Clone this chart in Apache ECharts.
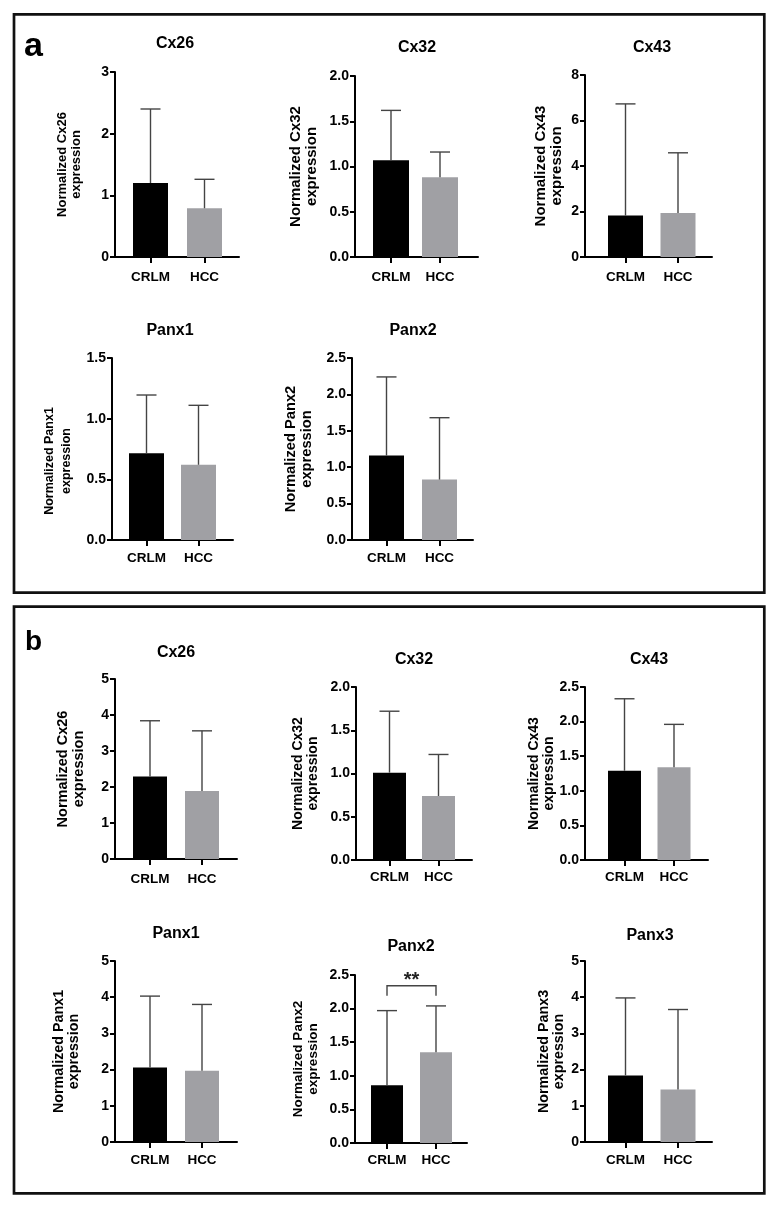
<!DOCTYPE html>
<html><head><meta charset="utf-8">
<script src="https://cdn.jsdelivr.net/npm/echarts@6/dist/echarts.min.js"></script>
<style>html,body{margin:0;padding:0;background:#fff}#c{width:777px;height:1213px}</style>
</head><body><div id="c"></div>
<script>
// ---------------- data ----------------
const categories = ['CRLM', 'HCC'];
const panelLetters = ['a', 'b'];

// panel a
const aCx26Mean = [1.20, 0.79];  const aCx26Err = [1.20, 0.47];  const aCx26Ticks = ['0','1','2','3'];
const aCx32Mean = [1.07, 0.88];  const aCx32Err = [0.55, 0.28];  const aCx32Ticks = ['0.0','0.5','1.0','1.5','2.0'];
const aCx43Mean = [1.82, 1.93];  const aCx43Err = [4.91, 2.65];  const aCx43Ticks = ['0','2','4','6','8'];
const aPanx1Mean = [0.715, 0.62]; const aPanx1Err = [0.48, 0.49]; const aPanx1Ticks = ['0.0','0.5','1.0','1.5'];
const aPanx2Mean = [1.16, 0.83]; const aPanx2Err = [1.08, 0.85]; const aPanx2Ticks = ['0.0','0.5','1.0','1.5','2.0','2.5'];

// panel b
const bCx26Mean = [2.29, 1.89];  const bCx26Err = [1.55, 1.67];  const bCx26Ticks = ['0','1','2','3','4','5'];
const bCx32Mean = [1.01, 0.74];  const bCx32Err = [0.71, 0.48];  const bCx32Ticks = ['0.0','0.5','1.0','1.5','2.0'];
const bCx43Mean = [1.29, 1.34];  const bCx43Err = [1.04, 0.62];  const bCx43Ticks = ['0.0','0.5','1.0','1.5','2.0','2.5'];
const bPanx1Mean = [2.06, 1.97]; const bPanx1Err = [1.97, 1.83]; const bPanx1Ticks = ['0','1','2','3','4','5'];
const bPanx2Mean = [0.86, 1.35]; const bPanx2Err = [1.11, 0.69]; const bPanx2Ticks = ['0.0','0.5','1.0','1.5','2.0','2.5'];
const bPanx3Mean = [1.84, 1.45]; const bPanx3Err = [2.14, 2.21]; const bPanx3Ticks = ['0','1','2','3','4','5'];

// significance annotation (panel b, Panx2): between categories 0 and 1
const sigPair = [0, 1];
const sigBracketY = 2.34;
const sigLegY = 2.19;
const sigText = '**';

const charts = [
  {title:'Cx26',  mean:aCx26Mean,  err:aCx26Err,  ticks:aCx26Ticks},
  {title:'Cx32',  mean:aCx32Mean,  err:aCx32Err,  ticks:aCx32Ticks},
  {title:'Cx43',  mean:aCx43Mean,  err:aCx43Err,  ticks:aCx43Ticks},
  {title:'Panx1', mean:aPanx1Mean, err:aPanx1Err, ticks:aPanx1Ticks},
  {title:'Panx2', mean:aPanx2Mean, err:aPanx2Err, ticks:aPanx2Ticks},
  {title:'Cx26',  mean:bCx26Mean,  err:bCx26Err,  ticks:bCx26Ticks},
  {title:'Cx32',  mean:bCx32Mean,  err:bCx32Err,  ticks:bCx32Ticks},
  {title:'Cx43',  mean:bCx43Mean,  err:bCx43Err,  ticks:bCx43Ticks},
  {title:'Panx1', mean:bPanx1Mean, err:bPanx1Err, ticks:bPanx1Ticks},
  {title:'Panx2', mean:bPanx2Mean, err:bPanx2Err, ticks:bPanx2Ticks, sig:true},
  {title:'Panx3', mean:bPanx3Mean, err:bPanx3Err, ticks:bPanx3Ticks}
];

// ---------------- layout / style ----------------
const layout = [
  {yx:115, xr:239, yt:72,  yb:257,  c1:150.5, c2:204.5, barW:35, nameSize:13,   nameGap:32, lm:13.5, tx:175, ty:44},
  {yx:355, xr:478, yt:76,  yb:257,  c1:391,   c2:440,   barW:36, nameSize:15,   nameGap:35, lm:13,   tx:417, ty:48},
  {yx:585, xr:712, yt:75,  yb:257,  c1:625.5, c2:678,   barW:35, nameSize:15,   nameGap:20, lm:13,   tx:652, ty:48},
  {yx:112, xr:233, yt:358, yb:540,  c1:146.5, c2:198.5, barW:35, nameSize:12.5, nameGap:37, lm:11,   tx:170, ty:331, nameShift:12, nameLH:17},
  {yx:352, xr:473, yt:358, yb:540,  c1:386.5, c2:439.5, barW:35, nameSize:14.7, nameGap:37, lm:11,   tx:413, ty:331},
  {yx:115, xr:237, yt:679, yb:859,  c1:150,   c2:202,   barW:34, nameSize:14.5, nameGap:28, lm:13,   tx:176, ty:653},
  {yx:356, xr:472, yt:687, yb:860,  c1:389.5, c2:438.5, barW:33, nameSize:14,   nameGap:35, lm:10,   tx:414, ty:660},
  {yx:585, xr:708, yt:687, yb:860,  c1:624.5, c2:674,   barW:33, nameSize:14,   nameGap:28, lm:10,   tx:649, ty:660},
  {yx:115, xr:237, yt:961, yb:1142, c1:150,   c2:202,   barW:34, nameSize:14.3, nameGap:33, lm:11,   tx:176, ty:934},
  {yx:355, xr:467, yt:975, yb:1143, c1:387,   c2:436,   barW:32, nameSize:13.5, nameGap:34, lm:10,   tx:411, ty:947},
  {yx:585, xr:712, yt:961, yb:1142, c1:625.5, c2:678,   barW:35, nameSize:14.3, nameGap:18, lm:11,   tx:650, ty:936}
];
const barColors = ['#000000', '#a0a0a4'];
const FONT = '"Liberation Sans", Arial, Helvetica, sans-serif';
const WHISKER = '#444444';

function errRender(params, api) {
  const x = api.value(0), m = api.value(1), e = api.value(2);
  const p0 = api.coord([x, m]);
  const p1 = api.coord([x, m + e]);
  const st = {stroke: WHISKER, lineWidth: 1.4};
  return {type:'group', children:[
    {type:'line', shape:{x1:p0[0], y1:p0[1], x2:p1[0], y2:p1[1]}, style:st},
    {type:'line', shape:{x1:p1[0]-10, y1:p1[1], x2:p1[0]+10, y2:p1[1]}, style:st}
  ]};
}
function sigRender(params, api) {
  const a = api.value(0), b = api.value(1), y = api.value(2), leg = api.value(3);
  const pa0 = api.coord([a, leg]), pa1 = api.coord([a, y]);
  const pb1 = api.coord([b, y]), pb0 = api.coord([b, leg]);
  return {type:'group', children:[
    {type:'polyline', shape:{points:[pa0, pa1, pb1, pb0]}, style:{stroke:WHISKER, lineWidth:1.4, fill:null}},
    {type:'text', style:{text:sigText, x:(pa1[0]+pb1[0])/2, y:pa1[1]-5, textAlign:'center', textVerticalAlign:'middle',
      align:'center', verticalAlign:'middle', fontSize:20, fontWeight:'bold', fontFamily:FONT, fill:'#222'}}
  ]};
}

const grid = [], xAxis = [], yAxis = [], series = [], graphic = [];
charts.forEach((c, i) => {
  const L = layout[i];
  const unit = L.c2 - L.c1;
  const tv = c.ticks.map(Number);
  const step = tv[1] - tv[0];
  grid.push({left:L.yx, top:L.yt, width:L.xr - L.yx, height:L.yb - L.yt, containLabel:false, outerBoundsMode:'none'});
  xAxis.push({
    gridIndex:i, type:'value', min:-(L.c1 - L.yx)/unit, max:1 + (L.xr - L.c2)/unit,
    splitLine:{show:false},
    axisLine:{show:true, onZero:false, lineStyle:{color:'#000', width:2}},
    axisTick:{show:true, customValues:[0,1], length:6, lineStyle:{color:'#000', width:2}},
    axisLabel:{show:true, customValues:[0,1], formatter:v => categories[Math.round(v)], margin:L.lm,
      color:'#000', fontWeight:'bold', fontSize:13.5, fontFamily:FONT}
  });
  yAxis.push({
    gridIndex:i, type:'value', min:tv[0], max:tv[tv.length-1], interval:step,
    splitLine:{show:false},
    axisLine:{show:true, onZero:false, lineStyle:{color:'#000', width:2}},
    axisTick:{show:true, length:5, lineStyle:{color:'#000', width:2}},
    axisLabel:{margin:6, color:'#000', fontWeight:'bold', fontSize:14, fontFamily:FONT,
      formatter:v => c.ticks[Math.round((v - tv[0])/step)]},
    name:'Normalized ' + c.title + '\nexpression', nameLocation:'middle', nameRotate:90,
    nameGap:L.nameGap, nameMoveOverlap:false,
    nameTextStyle:{fontSize:L.nameSize, fontWeight:'bold', color:'#000', fontFamily:FONT,
      lineHeight:L.nameLH || Math.round(L.nameSize*1.08),
      padding: L.nameShift ? [0, 2*L.nameShift, 0, 0] : 0}
  });
  series.push({type:'bar', xAxisIndex:i, yAxisIndex:i, barWidth:L.barW, z:2, animation:false,
    data:c.mean.map((v,k) => ({value:[k, v], itemStyle:{color:barColors[k]}}))});
  series.push({type:'custom', xAxisIndex:i, yAxisIndex:i, z:3, renderItem:errRender, encode:{x:0, y:1},
    data:c.mean.map((v,k) => [k, v, c.err[k]])});
  if (c.sig) {
    series.push({type:'custom', xAxisIndex:i, yAxisIndex:i, z:4, clip:false, renderItem:sigRender, encode:{x:0, y:2},
      data:[[sigPair[0], sigPair[1], sigBracketY, sigLegY]]});
  }
  graphic.push({type:'text', x:L.tx, y:L.ty, style:{text:c.title, textAlign:'center', textVerticalAlign:'middle',
    align:'center', verticalAlign:'middle', fontSize:16, fontWeight:'bold', fontFamily:FONT, fill:'#000'}});
});

// panel frames and letters
graphic.push({type:'rect', shape:{x:14, y:14.3, width:750.3, height:578.4}, style:{fill:null, stroke:'#111', lineWidth:2.7}});
graphic.push({type:'rect', shape:{x:14, y:606.7, width:750.3, height:586.6}, style:{fill:null, stroke:'#111', lineWidth:2.7}});
graphic.push({type:'text', x:24, y:46.2, style:{text:panelLetters[0], textAlign:'left', textVerticalAlign:'middle',
  align:'left', verticalAlign:'middle', fontSize:34, fontWeight:'bold', fontFamily:FONT, fill:'#000'}});
graphic.push({type:'text', x:25, y:642.3, style:{text:panelLetters[1], textAlign:'left', textVerticalAlign:'middle',
  align:'left', verticalAlign:'middle', fontSize:28, fontWeight:'bold', fontFamily:FONT, fill:'#000'}});

const chart = echarts.init(document.getElementById('c'), null, {renderer:'canvas'});
chart.setOption({
  animation:false,
  backgroundColor:'#fff',
  textStyle:{fontFamily:FONT},
  grid, xAxis, yAxis, series, graphic
});
</script>
</body></html>
